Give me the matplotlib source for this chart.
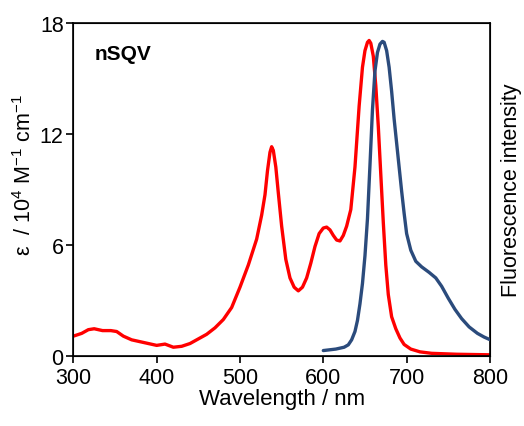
import matplotlib
matplotlib.use("Agg")
import numpy as np
import matplotlib.pyplot as plt

plt.rcParams["font.family"] = ["Liberation Sans", "DejaVu Sans"]
plt.rcParams["mathtext.fontset"] = "custom"
plt.rcParams["mathtext.rm"] = "Liberation Sans"
plt.rcParams["mathtext.it"] = "Liberation Sans"

# ── absorption (red), epsilon / 10^4 M^-1 cm^-1 ──────────────
abs_wl = [300, 310, 318, 325, 335, 345, 352, 360, 370, 385, 400, 410, 420,
          430, 440, 450, 460, 470, 480, 490, 500, 510, 520, 526, 530, 533,
          536, 538, 540, 543, 546, 550, 555, 560, 565, 570, 575, 580, 585,
          590, 595, 600, 604, 608, 612, 616, 620, 624, 628, 633, 638, 643,
          647, 650, 653, 655, 657, 660, 663, 666, 669, 672, 675, 678, 682,
          687, 692, 697, 705, 716, 730, 760, 800]
abs_eps = [1.05, 1.2, 1.4, 1.45, 1.35, 1.35, 1.3, 1.05, 0.85, 0.7, 0.55,
           0.62, 0.45, 0.5, 0.65, 0.9, 1.15, 1.5, 1.95, 2.6, 3.7, 4.9, 6.3,
           7.6, 8.7, 10.0, 11.0, 11.3, 11.1, 10.2, 8.8, 7.0, 5.2, 4.2, 3.7,
           3.5, 3.7, 4.2, 5.0, 5.9, 6.6, 6.9, 6.95, 6.8, 6.5, 6.25, 6.2, 6.5,
           7.0, 7.9, 10.2, 13.5, 15.6, 16.5, 16.95, 17.05, 16.9, 16.2, 14.6,
           12.4, 9.8, 7.2, 4.9, 3.3, 2.1, 1.45, 0.95, 0.6, 0.35, 0.2, 0.12,
           0.07, 0.04]

# ── fluorescence (blue), same scale ──────────────────────────
fl_wl = [600, 615, 625, 630, 634, 638, 641, 644, 647, 650, 653, 656, 659,
         662, 665, 668, 671, 673, 676, 679, 682, 685, 688, 691, 694, 697,
         700, 705, 711, 718, 727, 735, 742, 750, 758, 766, 775, 785, 793, 800]
fl_int = [0.27, 0.35, 0.45, 0.58, 0.85, 1.3, 1.9, 2.8, 3.9, 5.4, 7.4, 10.3,
          13.3, 15.4, 16.4, 16.85, 17.0, 16.95, 16.5, 15.6, 14.3, 12.8, 11.5,
          10.2, 8.9, 7.7, 6.6, 5.7, 5.1, 4.8, 4.5, 4.2, 3.75, 3.1, 2.5, 2.0,
          1.55, 1.2, 1.0, 0.86]

fig = plt.figure(figsize=(5.24, 4.27), dpi=100)
ax = fig.add_axes([0.140, 0.165, 0.795, 0.779])

ax.plot(abs_wl, abs_eps, color="#ff0000", lw=2.4, solid_capstyle="round",
        solid_joinstyle="round")

ax.set_xlim(300, 800)
ax.set_ylim(0, 18)
ax.set_xticks([300, 400, 500, 600, 700, 800])
ax.set_yticks([0, 6, 12, 18])
ax.tick_params(direction="out", length=5, width=1.2, labelsize=15.5, pad=2)
ax.tick_params(axis="x", pad=3)
for s in ax.spines.values():
    s.set_linewidth(1.2)
ax.set_xlabel("Wavelength / nm", fontsize=16, labelpad=0)
ax.set_ylabel(r"ε  / 10$^{4}$ M$^{-1}$ cm$^{-1}$", fontsize=15.5)
ax.yaxis.set_label_coords(-0.09, 0.545)
ax.text(0.052, 0.937, "nSQV", transform=ax.transAxes, fontsize=15,
        fontweight="bold", va="top", ha="left")

ax2 = ax.twinx()
ax2.plot(fl_wl, fl_int, color="#2b4b7c", lw=2.4, solid_capstyle="round",
         solid_joinstyle="round")
ax2.set_ylim(0, 18)
ax2.set_yticks([])
ax2.set_ylabel("Fluorescence intensity", fontsize=15.5, labelpad=8)

fig.savefig("out.png", dpi=100)
